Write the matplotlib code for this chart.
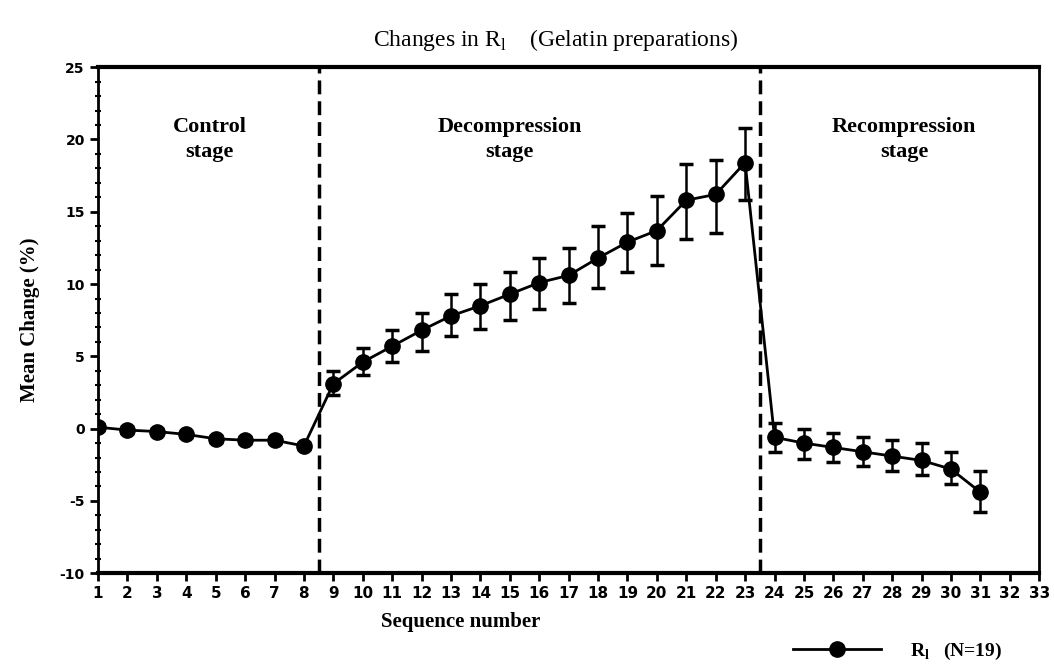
import matplotlib
matplotlib.use("Agg")
import matplotlib.pyplot as plt
from matplotlib.ticker import MultipleLocator

# data
seq = list(range(1, 32))
mean_change = [0.1, -0.1, -0.2, -0.4, -0.7, -0.8, -0.8, -1.2,
               3.1, 4.6, 5.7, 6.8, 7.8, 8.5, 9.3, 10.1, 10.6, 11.8, 12.9, 13.7, 15.8, 16.2, 18.4,
               -0.6, -1.0, -1.3, -1.6, -1.9, -2.2, -2.8, -4.4]
err_low = [0.2, 0.2, 0.2, 0.2, 0.2, 0.2, 0.2, 0.2,
           0.8, 0.9, 1.1, 1.4, 1.4, 1.6, 1.8, 1.8, 1.9, 2.1, 2.1, 2.4, 2.7, 2.7, 2.6,
           1.0, 1.1, 1.0, 1.0, 1.0, 1.0, 1.0, 1.4]
err_high = [0.2, 0.2, 0.2, 0.2, 0.2, 0.2, 0.2, 0.2,
            0.9, 1.0, 1.1, 1.2, 1.5, 1.5, 1.5, 1.7, 1.9, 2.2, 2.0, 2.4, 2.5, 2.4, 2.4,
            1.0, 1.0, 1.0, 1.0, 1.1, 1.2, 1.2, 1.5]
stage_bounds = [8.5, 23.5]
stage_labels = ["Control\nstage", "Decompression\nstage", "Recompression\nstage"]
stage_centers = [4.8, 15.0, 28.4]
xticks = list(range(1, 34))

serif = ["Liberation Serif", "DejaVu Serif"]
plt.rcParams["axes.unicode_minus"] = False

fig = plt.figure(figsize=(10.54, 6.72), dpi=100)
ax = fig.add_axes([0.093, 0.147, 0.893, 0.753])

ax.errorbar(seq, mean_change, yerr=[err_low, err_high], color="black",
            marker="o", markersize=11, linewidth=2, elinewidth=1.8,
            capsize=5, capthick=2.5, label="R")

for xb in stage_bounds:
    ax.axvline(xb, color="black", linestyle=(0, (4, 2)), linewidth=2.5)

for xc, lab in zip(stage_centers, stage_labels):
    ax.text(xc, 20.0, lab, ha="center", va="center", fontsize=16,
            fontweight="bold", family=serif, linespacing=1.3)

ax.set_xlim(1, 33)
ax.set_ylim(-10, 25)
ax.set_xticks(xticks)
ax.yaxis.set_major_locator(MultipleLocator(5))
ax.yaxis.set_minor_locator(MultipleLocator(1))
ax.tick_params(axis="both", which="major", labelsize=11, width=2, length=6,
               direction="out")
ax.tick_params(axis="y", which="major", labelsize=10)
ax.tick_params(axis="y", which="minor", width=1.5, length=4, direction="inout")
for lab in ax.get_xticklabels() + ax.get_yticklabels():
    lab.set_fontweight("bold")

for side, lw in [("top", 3), ("bottom", 3), ("left", 2), ("right", 2)]:
    ax.spines[side].set_linewidth(lw)

fig.text(0.527, 0.94, r"Changes in R$_{\mathregular{l}}$    (Gelatin preparations)",
         ha="center", va="center", fontsize=17, family=serif)
fig.text(0.437, 0.075, "Sequence number", ha="center", va="center",
         fontsize=15, fontweight="bold", family=serif)
ax.set_ylabel("Mean Change (%)", fontsize=15, fontweight="bold",
              family=serif, labelpad=14)

leg = ax.legend([ax.lines[0]], [r"R$_{\mathregular{l}}$   (N=19)"],
                loc="center left", bbox_to_anchor=(0.72, -0.155),
                frameon=False, handlelength=4.5, handletextpad=1.5,
                prop={"family": serif, "size": 14, "weight": "bold"})

fig.savefig("out.png", dpi=100)
